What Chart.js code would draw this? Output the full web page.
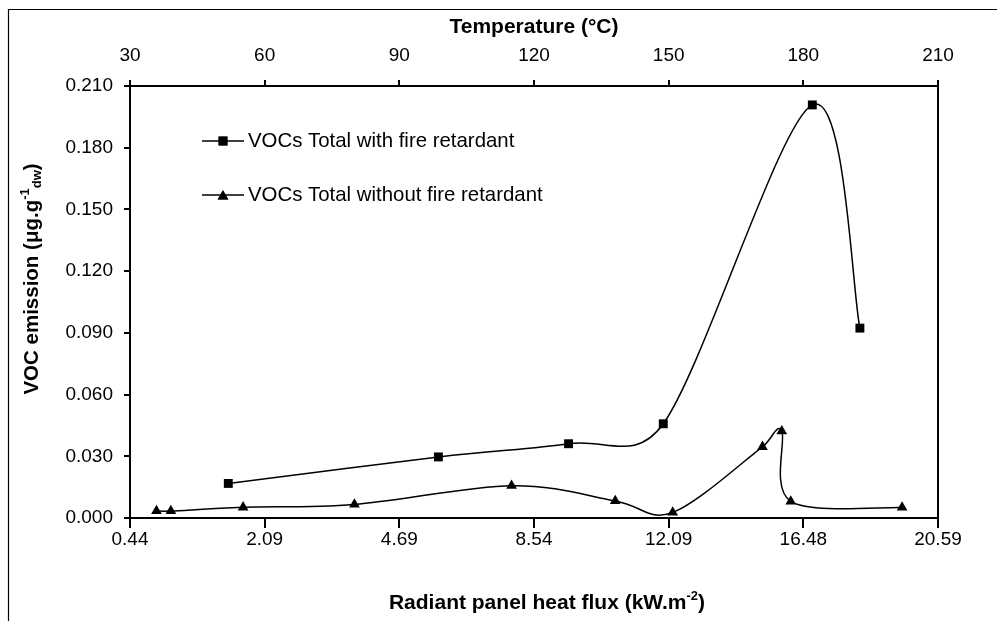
<!DOCTYPE html>
<html>
<head>
<meta charset="utf-8">
<script src="https://cdn.jsdelivr.net/npm/chart.js@4/dist/chart.umd.min.js"></script>
<style>
  html, body { margin: 0; padding: 0; background: #fff; }
  #wrap { position: relative; width: 997px; height: 621px; }
  canvas { display: block; }
</style>
</head>
<body>
<div id="wrap"><canvas id="c" width="997" height="621"></canvas></div>
<script>
// ---- data (x = temperature in °C, y = VOC emission) ----
const seriesNames = ["VOCs Total with fire retardant", "VOCs Total without fire retardant"];
const tempWith    = [51.9, 98.7, 127.7, 148.8, 182.0, 192.6];
const vocWith     = [0.0168, 0.0297, 0.0361, 0.0458, 0.2008, 0.0923];
const tempWithout = [35.9, 39.1, 55.2, 80.0, 115.0, 138.1, 150.9, 170.9, 175.2, 177.2, 202.0];
const vocWithout  = [0.0034, 0.0034, 0.0052, 0.0066, 0.0157, 0.0083, 0.0027, 0.0346, 0.0422, 0.0081, 0.0051];
// tick labels
const tempTicks  = [30, 60, 90, 120, 150, 180, 210];
const fluxLabels = ["0.44", "2.09", "4.69", "8.54", "12.09", "16.48", "20.59"];
const yTicks     = [0, 0.03, 0.06, 0.09, 0.12, 0.15, 0.18, 0.21];

const FONT = "'Liberation Sans', Arial, sans-serif";

function pts(xs, ys) { return xs.map((x, i) => ({ x: x, y: ys[i] })); }

function drawRich(ctx, segs, x, y, align) {
  let total = 0;
  segs.forEach(s => { ctx.font = (s.bold ? 'bold ' : '') + s.size + 'px ' + FONT; s.w = ctx.measureText(s.t).width; total += s.w; });
  let cx = align === 'center' ? x - total / 2 : x;
  ctx.textBaseline = 'alphabetic';
  ctx.textAlign = 'left';
  segs.forEach(s => {
    ctx.font = (s.bold ? 'bold ' : '') + s.size + 'px ' + FONT;
    ctx.fillText(s.t, cx, y + (s.dy || 0));
    cx += s.w;
  });
}

// Spreadsheet-style smoothing: Bezier control points at 1/6 of the neighbour chord,
// limited to half of the segment length; computed from the library's pixel positions.
const sheetSmooth = {
  id: 'sheetSmooth',
  beforeDatasetDraw(chart, args) {
    const meta = args.meta;
    const line = meta.dataset;
    const p = meta.data;
    const n = p.length;
    if (!line || n < 2) return;
    const tan = p.map((pt, i) => {
      const a = p[Math.max(0, i - 1)], b = p[Math.min(n - 1, i + 1)];
      return { x: (b.x - a.x) / 6, y: (b.y - a.y) / 6 };
    });
    for (let i = 0; i < n; i++) { p[i].cp1x = p[i].x; p[i].cp1y = p[i].y; p[i].cp2x = p[i].x; p[i].cp2y = p[i].y; }
    for (let i = 0; i < n - 1; i++) {
      const A = p[i], B = p[i + 1];
      const half = Math.hypot(B.x - A.x, B.y - A.y) / 2;
      let ta = tan[i], tb = tan[i + 1];
      let la = Math.hypot(ta.x, ta.y), lb = Math.hypot(tb.x, tb.y);
      let sa = la > half && la > 0 ? half / la : 1;
      let sb = lb > half && lb > 0 ? half / lb : 1;
      A.cp2x = A.x + ta.x * sa; A.cp2y = A.y + ta.y * sa;
      B.cp1x = B.x - tb.x * sb; B.cp1y = B.y - tb.y * sb;
    }
    line._pointsUpdated = true;
    line._path = undefined;
  }
};

const decor = {
  id: 'decor',
  beforeDraw(chart) {
    const ctx = chart.ctx;
    ctx.save();
    ctx.fillStyle = '#fff';
    ctx.fillRect(0, 0, chart.width, chart.height);
    ctx.strokeStyle = '#000';
    ctx.lineWidth = 1.2;
    ctx.beginPath();
    ctx.moveTo(8.5, 621); ctx.lineTo(8.5, 9.5); ctx.lineTo(997, 9.5);
    ctx.stroke();
    ctx.restore();
  },
  afterDraw(chart) {
    const ctx = chart.ctx;
    const a = chart.chartArea;
    ctx.save();
    ctx.strokeStyle = '#000';
    ctx.lineWidth = 2;
    ctx.beginPath();
    ctx.moveTo(a.right, a.top); ctx.lineTo(a.right, a.bottom);
    ctx.stroke();

    ctx.fillStyle = '#000';
    // bottom title
    drawRich(ctx, [
      { t: 'Radiant panel heat flux (kW.m', size: 21, bold: true },
      { t: '-2', size: 13, bold: true, dy: -9 },
      { t: ')', size: 21, bold: true }
    ], 547, 609, 'center');
    // left title (rotated)
    ctx.save();
    ctx.translate(38, 279);
    ctx.rotate(-Math.PI / 2);
    drawRich(ctx, [
      { t: 'VOC emission (μg.g', size: 20.5, bold: true },
      { t: '-1', size: 13, bold: true, dy: -9 },
      { t: 'dw', size: 13, bold: true, dy: 3 },
      { t: ')', size: 20.5, bold: true }
    ], 0, 0, 'center');
    ctx.restore();

    // legend
    const rows = [
      { y: 141, style: 'rect', r: 6.3 },
      { y: 195, style: 'triangle', r: 6.2 }
    ];
    rows.forEach((row, i) => {
      ctx.strokeStyle = '#000';
      ctx.lineWidth = 1.5;
      ctx.beginPath();
      ctx.moveTo(202, row.y); ctx.lineTo(244, row.y);
      ctx.stroke();
      Chart.helpers.drawPoint(ctx, { pointStyle: row.style, radius: row.r, borderWidth: 0 }, 223, row.y + (row.style === 'triangle' ? 1.5 : 0));
      ctx.fill();
      ctx.font = '20.4px ' + FONT;
      ctx.textBaseline = 'middle';
      ctx.textAlign = 'left';
      ctx.fillText(seriesNames[i], 248, row.y);
    });
    ctx.restore();
  }
};

const tickFont = { family: FONT, size: 19 };

new Chart(document.getElementById('c'), {
  type: 'scatter',
  data: {
    datasets: [
      {
        label: seriesNames[0],
        data: pts(tempWith, vocWith),
        showLine: true,
        borderColor: '#000',
        backgroundColor: '#000',
        borderWidth: 1.5,
        tension: 0.35,
        pointStyle: 'rect',
        pointRadius: 6.3,
        pointBorderWidth: 0
      },
      {
        label: seriesNames[1],
        data: pts(tempWithout, vocWithout),
        showLine: true,
        borderColor: '#000',
        backgroundColor: '#000',
        borderWidth: 1.5,
        tension: 0.35,
        pointStyle: 'triangle',
        pointRadius: 6.2,
        pointBorderWidth: 0
      }
    ]
  },
  options: {
    responsive: false,
    devicePixelRatio: 1,
    animation: false,
    events: [],
    layout: { padding: { left: 0, right: 59, top: 0, bottom: 0 } },
    plugins: { legend: { display: false }, tooltip: { enabled: false } },
    scales: {
      x: {
        type: 'linear', position: 'bottom', min: tempTicks[0], max: tempTicks[tempTicks.length - 1],
        afterBuildTicks: s => { s.ticks = tempTicks.map(v => ({ value: v })); },
        ticks: { color: '#000', font: tickFont, padding: 0, maxRotation: 0,
          callback: v => fluxLabels[tempTicks.indexOf(v)] },
        grid: { drawOnChartArea: false, drawTicks: true, tickLength: 10, color: '#000', lineWidth: 2 },
        border: { color: '#000', width: 2 },
        afterFit: s => { s.height = 103; }
      },
      x2: {
        type: 'linear', position: 'top', min: tempTicks[0], max: tempTicks[tempTicks.length - 1],
        afterBuildTicks: s => { s.ticks = tempTicks.map(v => ({ value: v })); },
        ticks: { color: '#000', font: tickFont, padding: 13, maxRotation: 0 },
        grid: { drawOnChartArea: false, drawTicks: true, tickLength: 6, color: '#000', lineWidth: 2 },
        border: { color: '#000', width: 2 },
        title: { display: true, text: 'Temperature (°C)', color: '#000', font: { family: FONT, size: 21, weight: 'bold' }, padding: { top: 15, bottom: 0 } },
        afterFit: s => { s.height = 86; }
      },
      y: {
        type: 'linear', position: 'left', min: yTicks[0], max: yTicks[yTicks.length - 1],
        afterBuildTicks: s => { s.ticks = yTicks.map(v => ({ value: v })); },
        ticks: { color: '#000', font: tickFont, padding: 11, callback: v => v.toFixed(3) },
        grid: { drawOnChartArea: false, drawTicks: true, tickLength: 6, color: '#000', lineWidth: 2 },
        border: { color: '#000', width: 2 },
        afterFit: s => { s.width = 130; }
      }
    }
  },
  plugins: [sheetSmooth, decor]
});
</script>
</body>
</html>
